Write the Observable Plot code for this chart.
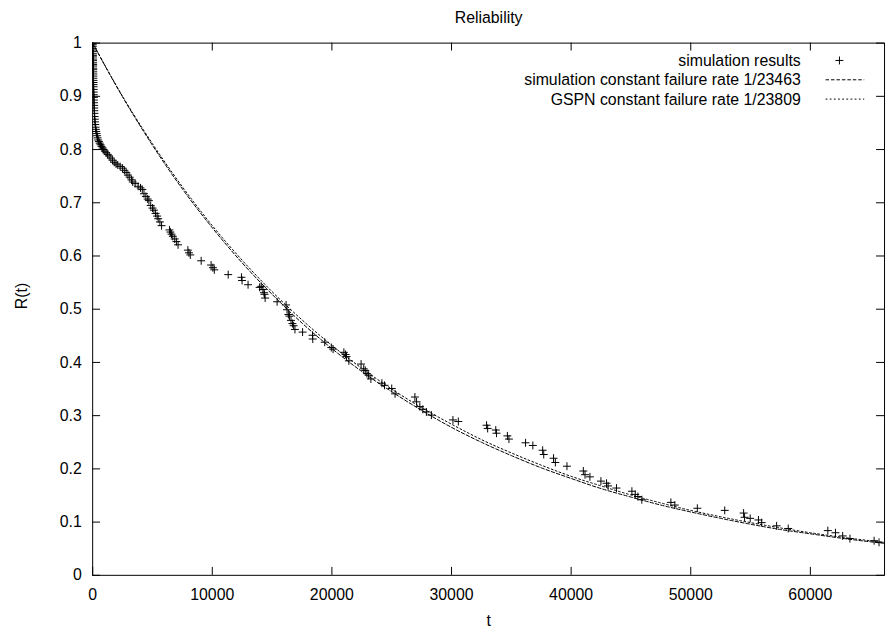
<!DOCTYPE html>
<html>
<head>
<meta charset="utf-8">
<script src="https://cdn.jsdelivr.net/npm/d3@7"></script>
<script src="https://cdn.jsdelivr.net/npm/@observablehq/plot@0.6"></script>
<style>
  html, body { margin: 0; padding: 0; background: white; overflow: hidden; }
  #wrap { width: 888px; height: 637px; overflow: hidden; position: relative; }
</style>
</head>
<body>
<div id="wrap"></div>
<script>
// ---------- texts ----------
const titleText = "Reliability";
const xLabel = "t";
const yLabel = "R(t)";
const legendLabels = ["simulation results", "simulation constant failure rate 1/23463", "GSPN constant failure rate 1/23809"];

// ---------- ticks ----------
const xTicks = [0, 10000, 20000, 30000, 40000, 50000, 60000];
const yTicks = [0, 0.1, 0.2, 0.3, 0.4, 0.5, 0.6, 0.7, 0.8, 0.9, 1];
const xMax = 66200;

// ---------- simulation results ----------
const simT = [0, 4, 8, 11, 14, 17, 20, 23, 26, 29, 32, 35, 38, 41, 44, 47, 50, 54, 58, 62, 66, 70, 74, 78, 83, 88, 94, 100, 107, 114, 122, 130, 140, 150, 163, 178, 195, 215, 240, 265, 295, 330, 370, 410, 460, 520, 590, 660, 740, 830, 920, 1020, 1130, 1250, 1380, 1520, 1660,
  1800, 1950, 2100, 2300, 2500, 2650, 2800, 2950, 3100, 3250, 3350, 3550, 3800, 4000, 4150, 4290, 4450, 4600, 4700, 4850, 5000, 5120, 5260, 5390, 5480, 5620, 5760, 6420, 6500, 6590, 6700, 6860, 7000, 7140, 7960, 8050, 8160, 9070, 9900, 10050, 10170, 11330, 12440, 12490, 12990, 13960, 14090, 14230, 14320, 14370, 14420, 15420, 16170, 16250, 16360, 16450, 16580, 16700, 16800, 16910, 17550, 18380, 18400, 19400, 19950, 20100, 21000, 21140, 21220, 21420, 22440, 22660, 22790, 22930, 23070, 23260, 24180, 24400, 25000, 25280, 26940, 27080, 27350, 27600, 27900, 28320, 30120, 30570, 32930, 33020, 33700, 33760, 34670, 34800, 36190, 36800, 37620, 37710, 38530, 38680, 39650, 41020, 41160, 41570, 42490, 42960, 43090, 43790, 45080, 45360, 45580, 45910, 48340, 48670, 50550, 52840, 54420, 54500, 54970, 55660, 55930, 57180, 58150, 61460, 62100, 62700, 63310, 65330, 65740];
const simR = [1.000, 0.997, 0.994, 0.990, 0.987, 0.984, 0.980, 0.977, 0.974, 0.970, 0.967, 0.963, 0.960, 0.957, 0.953, 0.950, 0.946, 0.942, 0.938, 0.934, 0.930, 0.926, 0.922, 0.918, 0.913, 0.908, 0.903, 0.898, 0.893, 0.888, 0.883, 0.878, 0.873, 0.868, 0.862, 0.857, 0.852, 0.847, 0.842, 0.838, 0.834, 0.830, 0.826, 0.822, 0.818, 0.815, 0.812, 0.809, 0.806, 0.803, 0.800, 0.797, 0.794, 0.791, 0.788, 0.784, 0.780,
  0.776, 0.773, 0.771, 0.768, 0.765, 0.761, 0.757, 0.752, 0.748, 0.743, 0.739, 0.736, 0.731, 0.728, 0.725, 0.717, 0.712, 0.707, 0.704, 0.695, 0.690, 0.686, 0.680, 0.675, 0.670, 0.664, 0.657, 0.649, 0.645, 0.641, 0.637, 0.632, 0.627, 0.621, 0.611, 0.606, 0.602, 0.591, 0.583, 0.578, 0.574, 0.565, 0.560, 0.554, 0.546, 0.541, 0.543, 0.537, 0.531, 0.528, 0.521, 0.514, 0.508, 0.499, 0.490, 0.487, 0.479, 0.473, 0.469, 0.462, 0.457, 0.451, 0.444, 0.438, 0.428, 0.425, 0.419, 0.415, 0.411, 0.403, 0.397, 0.388, 0.385, 0.379, 0.376, 0.369, 0.361, 0.357, 0.351, 0.341, 0.335, 0.326, 0.317, 0.312, 0.307, 0.301, 0.292, 0.289, 0.282, 0.276, 0.273, 0.267, 0.262, 0.256, 0.249, 0.244, 0.235, 0.227, 0.220, 0.212, 0.205, 0.196, 0.189, 0.185, 0.177, 0.173, 0.168, 0.164, 0.158, 0.152, 0.148, 0.142, 0.137, 0.132, 0.126, 0.122, 0.117, 0.109, 0.107, 0.104, 0.099, 0.093, 0.088, 0.084, 0.080, 0.074, 0.069, 0.065, 0.062];

// ---------- constant failure rate curves ----------
const curveT = [0, 2500, 5000, 7500, 10000, 12500, 15000, 17500, 20000, 22500, 25000, 27500, 30000, 32500, 35000, 37500, 40000, 42500, 45000, 47500, 50000, 52500, 55000, 57500, 60000, 62500, 65000, 66200];
const simRateR = [1, 0.899, 0.808, 0.726, 0.653, 0.587, 0.528, 0.474, 0.426, 0.383, 0.345, 0.310, 0.278, 0.250, 0.225, 0.202, 0.182, 0.163, 0.147, 0.132, 0.119, 0.107, 0.096, 0.086, 0.078, 0.070, 0.063, 0.060];
const gspnRateR = [1, 0.900, 0.811, 0.730, 0.657, 0.592, 0.533, 0.480, 0.432, 0.389, 0.350, 0.315, 0.284, 0.255, 0.230, 0.207, 0.186, 0.168, 0.151, 0.136, 0.122, 0.110, 0.099, 0.089, 0.080, 0.072, 0.065, 0.062];

// ---------- build tables ----------
const simPoints = simT.map((t, i) => ({t, r: simR[i]}));
const simCurve = curveT.map((t, i) => ({t, r: simRateR[i]}));
const gspnCurve = curveT.map((t, i) => ({t, r: gspnRateR[i]}));

// ---------- layout ----------
const W = 896, H = 637, ML = 93, MR = 4, MT = 43, MB = 57;
const FW = W - ML - MR, FH = H - MT - MB;
const TICK = 8;
const FONT = '"Liberation Sans", Arial, Helvetica, sans-serif';
const dashSim = "3.5,2";
const dashGspn = "1.8,2.4";

const chart = Plot.plot({
  width: W, height: H,
  marginLeft: ML, marginRight: MR, marginTop: MT, marginBottom: MB,
  style: {fontFamily: FONT, fontSize: "16px", color: "black", background: "white"},
  x: {domain: [0, xMax]},
  y: {domain: [0, 1]},
  marks: [
    Plot.axisX(xTicks, {tickSize: 0, tickPadding: 14, tickFormat: d => String(d), label: null, fontSize: 16}),
    Plot.axisY(yTicks, {tickSize: 0, tickPadding: 11, tickFormat: d => String(d), label: null, fontSize: 16}),
    // inward ticks on all four sides
    Plot.tickY(yTicks, {y: d => d, insetRight: FW - TICK, stroke: "black"}),
    Plot.tickY(yTicks, {y: d => d, insetLeft: FW - TICK, stroke: "black"}),
    Plot.tickX(xTicks, {x: d => d, insetTop: FH - TICK, stroke: "black"}),
    Plot.tickX(xTicks, {x: d => d, insetBottom: FH - TICK, stroke: "black"}),
    Plot.line(gspnCurve, {x: "t", y: "r", stroke: "black", strokeWidth: 1, strokeDasharray: dashGspn, curve: "monotone-x", clip: true}),
    Plot.line(simCurve, {x: "t", y: "r", stroke: "black", strokeWidth: 1, strokeDasharray: dashSim, curve: "monotone-x", clip: true}),
    Plot.dot(simPoints, {x: "t", y: "r", symbol: "plus", r: 2.7, stroke: "black", strokeWidth: 1, clip: true}),
    Plot.frame({stroke: "black", strokeWidth: 1}),
    Plot.text([titleText], {text: d => d, frameAnchor: "top", dy: -25, lineAnchor: "middle", fontSize: 16}),
    Plot.text([yLabel], {text: d => d, frameAnchor: "left", dx: -71, rotate: -90, lineAnchor: "middle", fontSize: 16}),
    Plot.text([xLabel], {text: d => d, frameAnchor: "bottom", dy: 46, lineAnchor: "middle", fontSize: 16})
  ]
});

// ---------- key (inside top-right of the frame) ----------
const svg = d3.select(chart);
const key = svg.append("g").attr("font-family", FONT).attr("font-size", 16).attr("fill", "black");
const right = W - MR;
const textX = right - 84;
const sx1 = right - 59, sx2 = right - 20;
const rowY = [MT + 18, MT + 37.5, MT + 57];
legendLabels.forEach((lab, i) => {
  key.append("text").attr("x", textX).attr("y", rowY[i]).attr("dy", "0.35em")
    .attr("text-anchor", "end").text(lab);
});
const px = right - 45;
key.append("path").attr("d", `M${px - 4},${rowY[0]}H${px + 4}M${px},${rowY[0] - 4}V${rowY[0] + 4}`)
  .attr("stroke", "black").attr("fill", "none");
key.append("line").attr("x1", sx1).attr("x2", sx2).attr("y1", rowY[1]).attr("y2", rowY[1])
  .attr("stroke", "black").attr("stroke-dasharray", dashSim);
key.append("line").attr("x1", sx1).attr("x2", sx2).attr("y1", rowY[2]).attr("y2", rowY[2])
  .attr("stroke", "black").attr("stroke-dasharray", dashGspn);

document.getElementById("wrap").appendChild(chart);
</script>
</body>
</html>
